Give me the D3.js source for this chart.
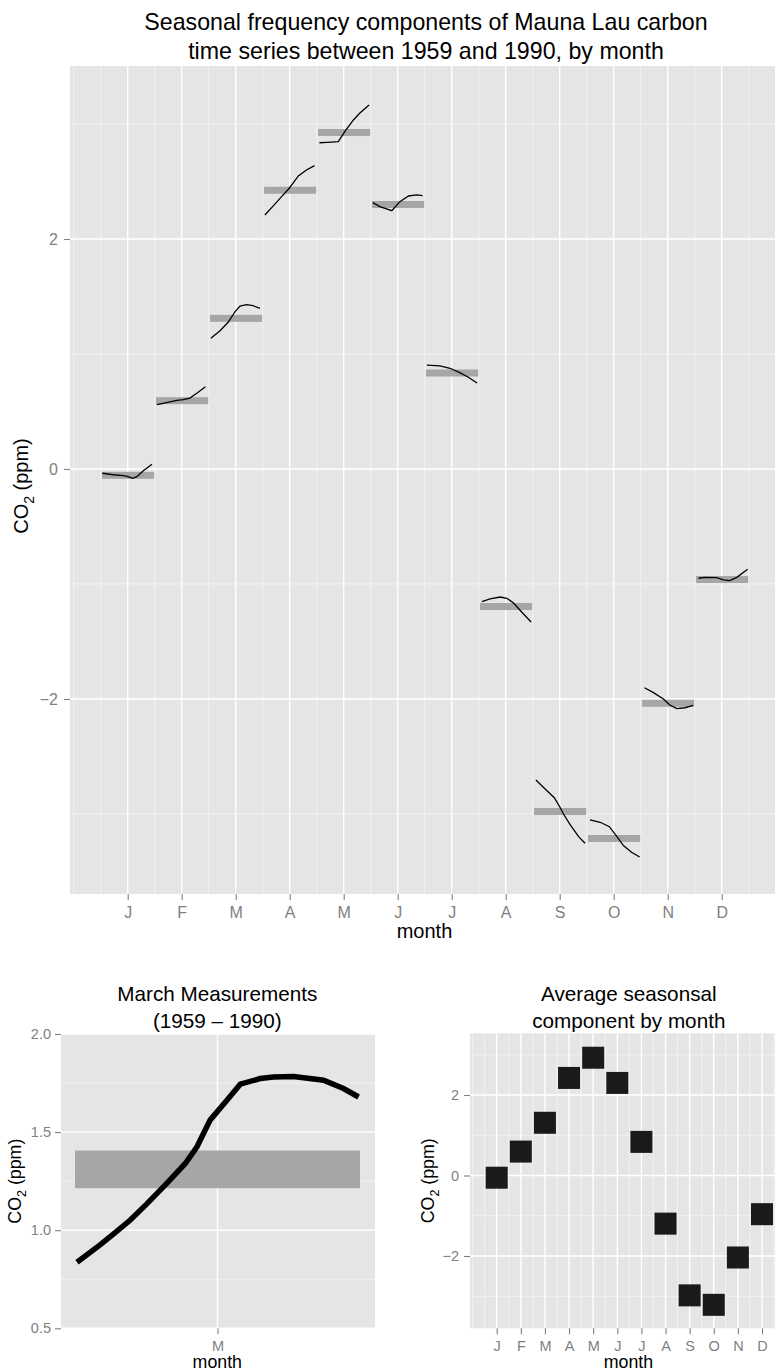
<!DOCTYPE html>
<html>
<head>
<meta charset="utf-8">
<script src="https://cdn.jsdelivr.net/npm/d3@7"></script>
<style>
  body { margin: 0; background: #fff; }
  svg text { font-family: "Liberation Sans", Arial, Helvetica, sans-serif; }
</style>
</head>
<body>
<svg width="775" height="1372"></svg>
<script>
// **** data ****
var months = ['J', 'F', 'M', 'A', 'M', 'J', 'J', 'A', 'S', 'O', 'N', 'D'];

// average seasonal component by month (ppm)
var monthMeans = [-0.055, 0.594, 1.31, 2.424, 2.926, 2.30, 0.835, -1.196, -2.978, -3.213, -2.037, -0.961];

// seasonal component across years, drawn inside each month slot (offset from month centre)
var subOffsets = [
  [-0.47, -0.27, -0.08, 0.01, 0.09, 0.17, 0.29, 0.45],
  [-0.46, -0.28, -0.09, 0.03, 0.15, 0.28, 0.44],
  [-0.46, -0.29, -0.14, -0.01, 0.08, 0.20, 0.32, 0.45],
  [-0.46, -0.30, -0.15, -0.02, 0.07, 0.16, 0.31, 0.46],
  [-0.45, -0.31, -0.10, 0.02, 0.18, 0.30, 0.47],
  [-0.46, -0.33, -0.11, 0.04, 0.20, 0.35, 0.46],
  [-0.46, -0.22, -0.03, 0.15, 0.30, 0.47],
  [-0.44, -0.29, -0.10, 0.02, 0.14, 0.30, 0.47],
  [-0.44, -0.27, -0.10, 0.0, 0.07, 0.19, 0.35, 0.47],
  [-0.44, -0.25, -0.08, 0.06, 0.18, 0.33, 0.48],
  [-0.43, -0.27, -0.08, 0.04, 0.17, 0.32, 0.47],
  [-0.43, -0.31, -0.09, 0.03, 0.15, 0.28, 0.48]
];
var subValues = [
  [-0.037, -0.050, -0.058, -0.067, -0.081, -0.067, -0.015, 0.041],
  [0.559, 0.577, 0.597, 0.603, 0.617, 0.658, 0.716],
  [1.137, 1.203, 1.276, 1.368, 1.417, 1.429, 1.420, 1.397],
  [2.209, 2.290, 2.368, 2.435, 2.490, 2.548, 2.600, 2.638],
  [2.837, 2.840, 2.846, 2.933, 3.035, 3.096, 3.165],
  [2.316, 2.281, 2.246, 2.325, 2.374, 2.383, 2.377],
  [0.904, 0.896, 0.876, 0.838, 0.800, 0.748],
  [-1.154, -1.130, -1.113, -1.124, -1.163, -1.246, -1.330],
  [-2.704, -2.783, -2.858, -2.937, -3.0, -3.090, -3.197, -3.255],
  [-3.052, -3.072, -3.110, -3.197, -3.275, -3.333, -3.374],
  [-1.902, -1.942, -2.0, -2.052, -2.084, -2.076, -2.055],
  [-0.950, -0.942, -0.945, -0.965, -0.971, -0.942, -0.872]
];

// March measurements (1959 - 1990)
var marchOffsets = [-0.493, -0.412, -0.359, -0.306, -0.248, -0.178, -0.113, -0.072, -0.026, 0.033, 0.080, 0.150, 0.196, 0.267, 0.372, 0.442, 0.495];
var marchValues = [0.837, 0.925, 0.988, 1.052, 1.134, 1.239, 1.340, 1.425, 1.561, 1.662, 1.744, 1.773, 1.781, 1.783, 1.764, 1.722, 1.679];
var marchIndex = 2;

// **** styles ****
var panelFill = '#E5E5E5', minorCol = '#F2F2F2', tickCol = '#7F7F7F';
var barCol = '#A6A6A6', squareCol = '#1A1A1A';

var svg = d3.select('svg');

function styleAxis(g, size) {
  g.select('.domain').remove();
  g.selectAll('.tick line').attr('stroke', tickCol).attr('stroke-width', 1.1);
  g.selectAll('.tick text').attr('fill', tickCol).attr('font-size', size)
    .attr('font-family', '"Liberation Sans", Arial, sans-serif');
}

function co2Label(x, y, size) {
  var t = svg.append('text')
    .attr('transform', 'translate(' + x + ',' + y + ') rotate(-90)')
    .attr('text-anchor', 'middle')
    .attr('font-size', size)
    .attr('fill', '#000');
  t.append('tspan').text('CO');
  t.append('tspan').text('2').attr('font-size', size * 0.7).attr('dy', size * 0.28);
  t.append('tspan').text(' (ppm)').attr('dy', -size * 0.28);
}

function title(lines, x, y0, size, gap) {
  lines.forEach(function(s, i) {
    svg.append('text').attr('x', x).attr('y', y0 + i * gap)
      .attr('text-anchor', 'middle').attr('font-size', size).text(s);
  });
}

function panel(x0, x1, y0, y1, xs, ys, xMajor, xMinor, yMajor, yMinor) {
  var g = svg.append('g');
  g.append('rect').attr('x', x0).attr('y', y0).attr('width', x1 - x0).attr('height', y1 - y0)
    .attr('fill', panelFill);
  g.selectAll('.ymin').data(yMinor).enter().append('line')
    .attr('x1', x0).attr('x2', x1).attr('y1', ys).attr('y2', ys)
    .attr('stroke', minorCol).attr('stroke-width', 1);
  g.selectAll('.xmin').data(xMinor).enter().append('line')
    .attr('y1', y0).attr('y2', y1).attr('x1', xs).attr('x2', xs)
    .attr('stroke', minorCol).attr('stroke-width', 1);
  g.selectAll('.ymaj').data(yMajor).enter().append('line')
    .attr('x1', x0).attr('x2', x1).attr('y1', ys).attr('y2', ys)
    .attr('stroke', '#fff').attr('stroke-width', 1.4);
  g.selectAll('.xmaj').data(xMajor).enter().append('line')
    .attr('y1', y0).attr('y2', y1).attr('x1', xs).attr('x2', xs)
    .attr('stroke', '#fff').attr('stroke-width', 1.4);
  return g;
}

var monthNums = d3.range(1, 13);
var halfMonths = [0].concat(d3.range(0.5, 13, 1));

// ================= top chart =================
var xTop = d3.scaleLinear().domain([1, 12]).range([127.7, 721.7]);
var yTop = d3.scaleLinear().domain([-2, 2]).range([699, 239]);
var topBox = {x0: 70, x1: 782, y0: 66, y1: 894};

panel(topBox.x0, topBox.x1, topBox.y0, topBox.y1,
  function(d) { return xTop(d); }, function(d) { return yTop(d); },
  monthNums, halfMonths, [-2, 0, 2], [-3, -1, 1, 3]);

var line = d3.line();
var topG = svg.append('g');
months.forEach(function(m, i) {
  var c = i + 1;
  topG.append('rect')
    .attr('x', xTop(c - 0.475)).attr('width', xTop(c + 0.49) - xTop(c - 0.475))
    .attr('y', yTop(monthMeans[i]) - 3.5).attr('height', 7)
    .attr('fill', barCol);
  var pts = subOffsets[i].map(function(o, j) { return [xTop(c + o), yTop(subValues[i][j])]; });
  topG.append('path').attr('d', line(pts))
    .attr('fill', 'none').attr('stroke', '#000').attr('stroke-width', 1.3);
});

var gx = svg.append('g').attr('transform', 'translate(0,' + topBox.y1 + ')')
  .call(d3.axisBottom(xTop).tickValues(monthNums)
    .tickFormat(function(d) { return months[d - 1]; }).tickSize(6).tickPadding(7));
styleAxis(gx, 16);
var gy = svg.append('g').attr('transform', 'translate(' + topBox.x0 + ',0)')
  .call(d3.axisLeft(yTop).tickValues([-2, 0, 2]).tickSize(6).tickPadding(6)
    .tickFormat(d3.format('d')));
styleAxis(gy, 16);

title(['Seasonal frequency components of Mauna Lau carbon',
       'time series between 1959 and 1990, by month'], 426, 30, 23.2, 28.5);
svg.append('text').attr('x', 424.5).attr('y', 938).attr('text-anchor', 'middle')
  .attr('font-size', 20).text('month');
co2Label(28, 486, 20);

// ================= bottom left: March =================
var xMar = d3.scaleLinear().domain([-0.5, 0.5]).range([75, 360]);
var yMar = d3.scaleLinear().domain([0.5, 2.0]).range([1328.3, 1034]);
var marBox = {x0: 61, x1: 375, y0: 1034, y1: 1328.3};

panel(marBox.x0, marBox.x1, marBox.y0, marBox.y1,
  function(d) { return xMar(d); }, function(d) { return yMar(d); },
  [0], [], [0.5, 1.0, 1.5, 2.0], [0.75, 1.25, 1.75]);

var marchBand = 0.096;
svg.append('rect')
  .attr('x', xMar(-0.5)).attr('width', xMar(0.5) - xMar(-0.5))
  .attr('y', yMar(monthMeans[marchIndex] + marchBand))
  .attr('height', yMar(monthMeans[marchIndex] - marchBand) - yMar(monthMeans[marchIndex] + marchBand))
  .attr('fill', barCol);
svg.append('path')
  .attr('d', line(marchOffsets.map(function(o, j) { return [xMar(o), yMar(marchValues[j])]; })))
  .attr('fill', 'none').attr('stroke', '#000').attr('stroke-width', 5.5);

var gmx = svg.append('g').attr('transform', 'translate(0,' + marBox.y1 + ')')
  .call(d3.axisBottom(xMar).tickValues([0]).tickFormat(function() { return months[marchIndex]; })
    .tickSize(6).tickPadding(6));
styleAxis(gmx, 14.5);
var gmy = svg.append('g').attr('transform', 'translate(' + marBox.x0 + ',0)')
  .call(d3.axisLeft(yMar).tickValues([0.5, 1.0, 1.5, 2.0]).tickSize(6).tickPadding(4)
    .tickFormat(d3.format('.1f')));
styleAxis(gmy, 14.5);

title(['March Measurements', '(1959 \u2013 1990)'], 217.3, 1000.5, 20.7, 27.5);
svg.append('text').attr('x', 217.3).attr('y', 1367.5).attr('text-anchor', 'middle')
  .attr('font-size', 17.8).text('month');
co2Label(21, (marBox.y0 + marBox.y1) / 2, 17.8);

// ================= bottom right: averages =================
var xAvg = d3.scaleLinear().domain([1, 12]).range([496.7, 762.0]);
var yAvg = d3.scaleLinear().domain([-2, 2]).range([1256, 1095]);
var avgBox = {x0: 470, x1: 789, y0: 1033.3, y1: 1328.3};

panel(avgBox.x0, avgBox.x1, avgBox.y0, avgBox.y1,
  function(d) { return xAvg(d); }, function(d) { return yAvg(d); },
  monthNums, halfMonths, [-2, 0, 2], [-3, -1, 1, 3]);

var sq = 22;
svg.append('g').selectAll('rect').data(monthMeans).enter().append('rect')
  .attr('x', function(d, i) { return xAvg(i + 1) - sq / 2; })
  .attr('y', function(d) { return yAvg(d) - sq / 2; })
  .attr('width', sq).attr('height', sq)
  .attr('fill', squareCol);

var gax = svg.append('g').attr('transform', 'translate(0,' + avgBox.y1 + ')')
  .call(d3.axisBottom(xAvg).tickValues(monthNums)
    .tickFormat(function(d) { return months[d - 1]; }).tickSize(6).tickPadding(6));
styleAxis(gax, 14.5);
var gay = svg.append('g').attr('transform', 'translate(' + avgBox.x0 + ',0)')
  .call(d3.axisLeft(yAvg).tickValues([-2, 0, 2]).tickSize(6).tickPadding(5)
    .tickFormat(d3.format('d')));
styleAxis(gay, 14.5);

title(['Average seasonsal', 'component by month'], 628.8, 1000.5, 20.7, 27.5);
svg.append('text').attr('x', 628.5).attr('y', 1367.5).attr('text-anchor', 'middle')
  .attr('font-size', 17.8).text('month');
co2Label(434, (avgBox.y0 + avgBox.y1) / 2, 17.8);
</script>
</body>
</html>
